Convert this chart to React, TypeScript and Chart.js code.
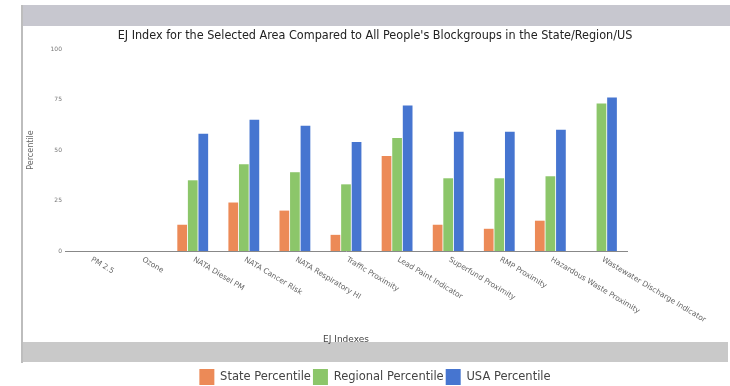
import React, { useEffect, useRef } from "react";
import { Chart, registerables } from "chart.js";

Chart.register(...registerables);

const categories = [
  "PM 2.5",
  "Ozone",
  "NATA Diesel PM",
  "NATA Cancer Risk",
  "NATA Respiratory HI",
  "Traffic Proximity",
  "Lead Paint Indicator",
  "Superfund Proximity",
  "RMP Proximity",
  "Hazardous Waste Proximity",
  "Wastewater Discharge Indicator",
];
const statePercentile = [0, 0, 13, 24, 20, 8, 47, 13, 11, 15, 0];
const regionalPercentile = [0, 0, 35, 43, 39, 33, 56, 36, 36, 37, 73];
const usaPercentile = [0, 0, 58, 65, 62, 54, 72, 59, 59, 60, 76];
const yTicks = [0, 25, 50, 75, 100];

const titleText =
  "EJ Index for the Selected Area Compared to All People's Blockgroups in the State/Region/US";

const framePlugin = {
  id: "frame",
  beforeDraw(chart: any) {
    const ctx = chart.ctx;
    ctx.save();
    ctx.fillStyle = "#ffffff";
    ctx.fillRect(0, 0, chart.width, chart.height);
    ctx.fillStyle = "#c7c7cf";
    ctx.fillRect(22, 5, 708, 21);
    ctx.fillStyle = "#c9c9c9";
    ctx.fillRect(21, 342, 707, 20);
    ctx.fillStyle = "#bdbdbd";
    ctx.fillRect(21, 5, 2, 358);
    ctx.restore();
  },
};

const xLabelPlugin = {
  id: "xlabels",
  afterDraw(chart: any) {
    const ctx = chart.ctx;
    const xs = chart.scales.x;
    const labels = chart.data.labels as string[];
    ctx.save();
    ctx.font = "7.5px 'DejaVu Sans', sans-serif";
    ctx.fillStyle = "#666666";
    ctx.textAlign = "left";
    ctx.textBaseline = "middle";
    labels.forEach((lab, i) => {
      const x = xs.getPixelForValue(i);
      const y = xs.top + 8;
      ctx.save();
      ctx.translate(x + 1, y);
      ctx.rotate((31 * Math.PI) / 180);
      ctx.fillText(lab, 0, 0);
      ctx.restore();
    });
    ctx.restore();
  },
};

export default function App() {
  const ref = useRef<HTMLCanvasElement | null>(null);
  useEffect(() => {
    if (!ref.current) return;
    const chart = new Chart(ref.current, {
      type: "bar",
      data: {
        labels: categories,
        datasets: [
          {
            label: "State Percentile",
            data: statePercentile,
            backgroundColor: "#ec8a57",
          },
          {
            label: "Regional Percentile",
            data: regionalPercentile,
            backgroundColor: "#8cc66a",
          },
          {
            label: "USA Percentile",
            data: usaPercentile,
            backgroundColor: "#4675d0",
          },
        ],
      },
      options: {
        animation: false,
        responsive: false,
        layout: { padding: { left: 24, right: 4, top: 28, bottom: 0 } },
        datasets: {
          bar: { categoryPercentage: 0.62, barPercentage: 0.92 },
        },
        plugins: {
          tooltip: { enabled: false },
          title: {
            display: true,
            text: titleText,
            color: "#222222",
            font: { family: "'DejaVu Sans Condensed', 'DejaVu Sans', sans-serif", size: 12.5, weight: "normal" },
            padding: { top: 0, bottom: 6 },
          },
          legend: {
            display: true,
            position: "bottom",
            labels: {
              color: "#444444",
              font: { family: "'DejaVu Sans', sans-serif", size: 11.5 },
              boxWidth: 15,
              boxHeight: 16,
              padding: 2,
            },
          },
        },
        scales: {
          x: {
            grid: { display: false },
            border: { display: true, color: "#888888", width: 1 },
            ticks: { display: false },
            title: {
              display: true,
              text: "EJ Indexes",
              color: "#444444",
              font: { family: "'DejaVu Sans', sans-serif", size: 9 },
              padding: { top: 0, bottom: 22 },
            },
            afterFit(s: any) {
              s.height = 116;
            },
          },
          y: {
            min: 0,
            max: 100,
            afterBuildTicks(s: any) {
              s.ticks = yTicks.map((v) => ({ value: v }));
            },
            grid: { display: false, drawTicks: false },
            border: { display: false },
            ticks: {
              color: "#777777",
              font: { family: "'DejaVu Sans', sans-serif", size: 6 },
              padding: 3,
            },
            title: {
              display: true,
              text: "Percentile",
              color: "#666666",
              font: { family: "'DejaVu Sans', sans-serif", size: 8 },
              padding: { top: 2, bottom: 0 },
            },
            afterFit(s: any) {
              s.width = 41;
            },
          },
          yR: {
            position: "right",
            display: true,
            grid: { display: false, drawTicks: false },
            border: { display: false },
            ticks: { display: false },
            afterFit(s: any) {
              s.width = 99;
            },
          },
        },
      } as any,
      plugins: [framePlugin, xLabelPlugin],
    });
    return () => chart.destroy();
  }, []);
  return (
    <div style={{ position: "fixed", left: 0, top: 0, width: 730, height: 386, overflow: "hidden" }}>
      <canvas ref={ref} width={730} height={395} style={{ width: 730, height: 395, display: "block" }} />
    </div>
  );
}
